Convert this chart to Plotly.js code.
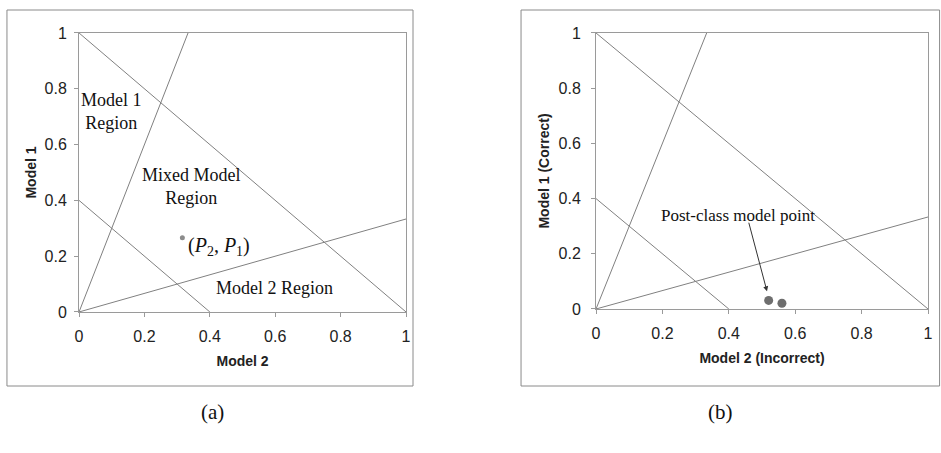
<!DOCTYPE html>
<html>
<head>
<meta charset="utf-8">
<script src="https://cdn.plot.ly/plotly-3.0.1.min.js"></script>
<style>html,body{margin:0;padding:0;background:#fff;}#chart{width:941px;height:453px;}</style>
</head>
<body>
<div id="chart"></div>
<script>
// Boundary lines (same in both panels)
const sumOneX = [0, 1];        const sumOneY = [1, 0];        // P1 + P2 = 1
const sumLowX = [0, 0.4];      const sumLowY = [0.4, 0];      // P1 + P2 = 0.4
const model2X = [0, 1];        const model2Y = [0, 0.3333];   // P1 = P2 / 3
const model1X = [0, 0.3333];   const model1Y = [0, 1];        // P1 = 3 P2
// Points
const pointAX = [0.316];       const pointAY = [0.266];
const pointBX = [0.52, 0.56];  const pointBY = [0.031, 0.021];
// Axis ticks
const tickVals = [0, 0.2, 0.4, 0.6, 0.8, 1];
const tickText = ['0', '0.2', '0.4', '0.6', '0.8', '1'];

const lineColor = '#808080';
const traces = [];
[['x','y'],['x2','y2']].forEach(([xa, ya]) => {
  [[sumOneX,sumOneY],[sumLowX,sumLowY],[model2X,model2Y],[model1X,model1Y]].forEach(([lx,ly]) => {
    traces.push({x: lx, y: ly, xaxis: xa, yaxis: ya, mode: 'lines', type: 'scatter',
      line: {color: lineColor, width: 1}, hoverinfo: 'skip', showlegend: false, cliponaxis: false});
  });
});
traces.push({x: pointAX, y: pointAY, xaxis: 'x', yaxis: 'y', mode: 'markers', type: 'scatter',
  marker: {color: '#8c8c8c', size: 5}, showlegend: false});
traces.push({x: pointBX, y: pointBY, xaxis: 'x2', yaxis: 'y2', mode: 'markers', type: 'scatter',
  marker: {color: '#6e6e6e', size: 9}, showlegend: false});

const tickFont = {family: 'Liberation Sans, Arial, sans-serif', size: 16, color: '#222'};
const titleFont = {family: 'Liberation Sans, Arial, sans-serif', size: 14, color: '#222'};
function axis(domain, title, standoffTitle, standoffLbl) {
  return {
    domain: domain, range: [0, 1], tickvals: tickVals, ticktext: tickText,
    showgrid: false, zeroline: false, showline: true, mirror: true,
    linecolor: '#9a9a9a', linewidth: 1, ticks: 'outside', ticklen: 4, tickcolor: '#9a9a9a',
    tickfont: tickFont, fixedrange: true, ticklabelstandoff: standoffLbl,
    title: {text: '<b>' + title + '</b>', font: titleFont, standoff: standoffTitle}
  };
}

const serif = 'Liberation Serif, Times New Roman, serif';
const layout = {
  width: 941, height: 453,
  margin: {l: 0, r: 0, t: 0, b: 0},
  paper_bgcolor: '#fff', plot_bgcolor: '#fff',
  showlegend: false,
  xaxis: Object.assign(axis([0.0840, 0.4315], 'Model 2', 12, 6), {anchor: 'y'}),
  yaxis: Object.assign(axis([0.3113, 0.9272], 'Model 1', 4, 4), {anchor: 'x'}),
  xaxis2: Object.assign(axis([0.6334, 0.9862], 'Model 2 (Incorrect)', 12, 6), {anchor: 'y2'}),
  yaxis2: Object.assign(axis([0.3179, 0.9272], 'Model 1 (Correct)', 5, 7), {anchor: 'x2'}),
  shapes: [
    {type: 'rect', xref: 'paper', yref: 'paper', x0: 0.0074, x1: 0.4389, y0: 0.1479, y1: 0.9779,
      line: {color: '#8a8a8a', width: 1}},
    {type: 'rect', xref: 'paper', yref: 'paper', x0: 0.5537, x1: 0.9985, y0: 0.1479, y1: 0.9779,
      line: {color: '#8a8a8a', width: 1}}
  ],
  annotations: [
    {xref: 'x', yref: 'y', x: 0.099, y: 0.72, text: 'Model 1<br>Region', showarrow: false,
      font: {family: serif, size: 18, color: '#111'}},
    {xref: 'x', yref: 'y', x: 0.343, y: 0.451, text: 'Mixed Model<br>Region', showarrow: false,
      font: {family: serif, size: 18, color: '#111'}},
    {xref: 'x', yref: 'y', x: 0.326, y: 0.233, xanchor: 'left',
      text: '(<i>P</i><sub>2</sub>, <i>P</i><sub>1</sub>)', showarrow: false,
      font: {family: serif, size: 20, color: '#111'}},
    {xref: 'x', yref: 'y', x: 0.598, y: 0.087, text: 'Model 2 Region', showarrow: false,
      font: {family: serif, size: 18, color: '#111'}},
    {xref: 'x2', yref: 'y2', x: 0.429, y: 0.338, text: 'Post-class model point', showarrow: false,
      font: {family: serif, size: 17, color: '#111'}},
    {xref: 'x2', yref: 'y2', x: 0.515, y: 0.064, ax: 0.459, ay: 0.318, axref: 'x2', ayref: 'y2',
      text: '', showarrow: true, arrowhead: 2, arrowsize: 1, arrowwidth: 1, arrowcolor: '#333'},
    {xref: 'paper', yref: 'paper', x: 0.2115, y: 0.0596, text: '(a)', showarrow: false,
      font: {family: serif, size: 21, color: '#111'}},
    {xref: 'paper', yref: 'paper', x: 0.781, y: 0.0596, text: '(b)', showarrow: false,
      font: {family: serif, size: 21, color: '#111'}}
  ]
};
Plotly.newPlot('chart', traces, layout, {staticPlot: true, displayModeBar: false});
</script>
</body>
</html>
